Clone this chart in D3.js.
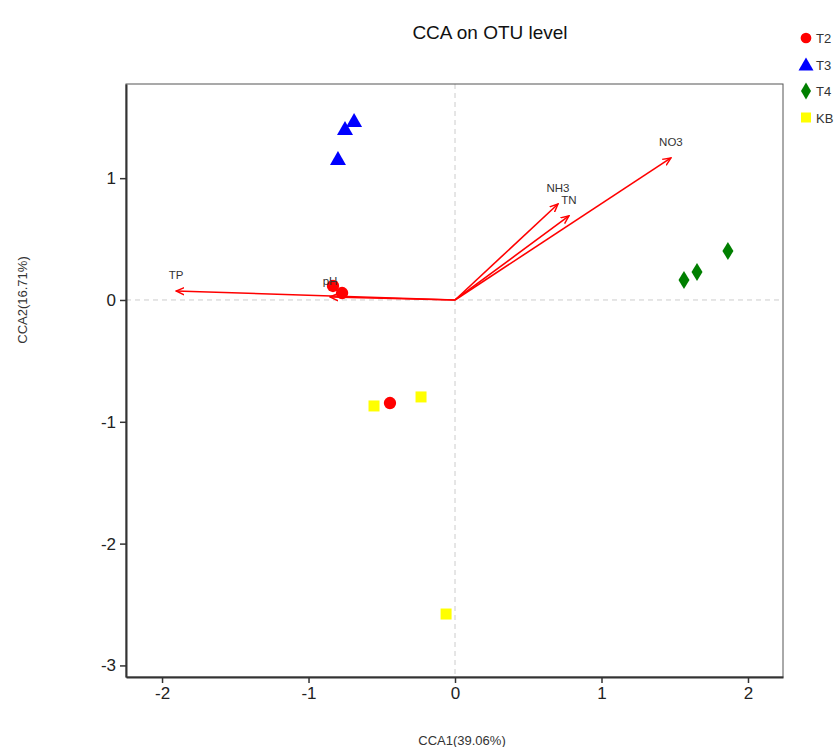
<!DOCTYPE html>
<html>
<head>
<meta charset="utf-8">
<script src="https://cdn.jsdelivr.net/npm/d3@7"></script>
<style>
body{margin:0;background:#fff;}
text{font-family:"Liberation Sans",Arial,sans-serif;}
</style>
</head>
<body>
<div id="svg"></div>
<script>
// sample scores
var groups=["T2","T3","T4","KB"];
var groupColors=["#ff0000","#0000ff","#007f00","#ffff00"];
var groupShapes=["circle","triangle","diamond","square"];
var sampleGroup=["T2","T2","T2","T3","T3","T3","T4","T4","T4","KB","KB","KB"];
var cca1=[-0.833,-0.771,-0.444,-0.689,-0.751,-0.799,1.563,1.652,1.863,-0.553,-0.232,-0.061];
var cca2=[0.115,0.057,-0.846,1.470,1.404,1.158,0.164,0.230,0.402,-0.870,-0.796,-2.578];

// environment factors
var envNames=["TP","pH","NH3","TN","NO3"];
var envX=[-1.904,-0.853,0.703,0.778,1.474];
var envY=[0.074,0.025,0.788,0.690,1.166];

var xTicks=[-2,-1,0,1,2];
var yTicks=[-3,-2,-1,0,1];

var width=834,height=747;
var margin={top:84,left:126,right:51,bottom:70};

var svg=d3.select("#svg").append("svg").attr("width",width).attr("height",height);

var x=d3.scaleLinear().domain([-2.246,2.239]).range([margin.left,width-margin.right]);
var y=d3.scaleLinear().domain([-3.095,1.773]).range([height-margin.bottom,margin.top]);

svg.append("defs").append("marker")
.attr("id","arr").attr("viewBox","0 0 10 10").attr("refX",9).attr("refY",5)
.attr("markerWidth",9).attr("markerHeight",9).attr("markerUnits","userSpaceOnUse")
.attr("orient","auto")
.append("path").attr("d","M0,1 L9,5 L0,9").attr("fill","none").attr("stroke","#ff0000").attr("stroke-width",1.6);

// zero lines
svg.append("line").attr("x1",x(0)).attr("x2",x(0)).attr("y1",margin.top).attr("y2",height-margin.bottom)
.attr("stroke","#cccccc").attr("stroke-dasharray","5,4");
svg.append("line").attr("x1",margin.left).attr("x2",width-margin.right).attr("y1",y(0)).attr("y2",y(0))
.attr("stroke","#cccccc").attr("stroke-dasharray","5,4");

// frame
svg.append("rect").attr("x",margin.left).attr("y",margin.top)
.attr("width",width-margin.right-margin.left).attr("height",height-margin.bottom-margin.top)
.attr("fill","none").attr("stroke","#555").attr("stroke-width",1);

var xAxis=svg.append("g").attr("transform","translate(0,"+(height-margin.bottom)+")")
.call(d3.axisBottom(x).tickValues(xTicks).tickFormat(d=>String(d)).tickSize(6).tickSizeOuter(0).tickPadding(4));
var yAxis=svg.append("g").attr("transform","translate("+margin.left+",0)")
.call(d3.axisLeft(y).tickValues(yTicks).tickFormat(d=>String(d)).tickSize(6).tickSizeOuter(0).tickPadding(4));
[xAxis,yAxis].forEach(function(a){
  a.select(".domain").attr("stroke","#333").attr("stroke-width",2);
  a.selectAll(".tick line").attr("stroke","#333").attr("stroke-width",1.5);
  a.selectAll(".tick text").attr("font-size",17).attr("fill","#222")
   .style("font-family","'Liberation Sans',Arial,sans-serif");
});

// env arrows
svg.selectAll(".env").data(envNames).enter().append("line")
.attr("x1",x(0)).attr("y1",y(0))
.attr("x2",(d,i)=>x(envX[i])).attr("y2",(d,i)=>y(envY[i]))
.attr("stroke","#ff0000").attr("stroke-width",1.6).attr("marker-end","url(#arr)");

function shapePath(s){
  if(s=="circle") return d3.symbol().type(d3.symbolCircle).size(120)();
  if(s=="triangle") return "M0,-8 L8,6 L-8,6 Z";
  if(s=="diamond") return "M0,-9 L5.5,0 L0,9 L-5.5,0 Z";
  return "M-5.5,-5.5 L5.5,-5.5 L5.5,5.5 L-5.5,5.5 Z";
}

svg.selectAll(".pt").data(sampleGroup).enter().append("path")
.attr("transform",(d,i)=>"translate("+x(cca1[i])+","+y(cca2[i])+")")
.attr("d",d=>shapePath(groupShapes[groups.indexOf(d)]))
.attr("fill",d=>groupColors[groups.indexOf(d)]);

// labels on top of points
svg.selectAll(".envlab").data(envNames).enter().append("text")
.attr("x",(d,i)=>x(envX[i])).attr("y",(d,i)=>y(envY[i])-12)
.attr("text-anchor","middle").attr("font-size",11.5).attr("fill","#333").text(d=>d);

// legend
var leg=svg.selectAll(".leg").data(groups).enter().append("g")
.attr("transform",(d,i)=>"translate(806,"+(38+i*26.5)+")");
leg.append("path").attr("d",(d,i)=>{
  if(i==0) return d3.symbol().type(d3.symbolCircle).size(90)();
  if(i==1) return "M0,-7 L7.5,6 L-7.5,6 Z";
  if(i==2) return "M0,-8.5 L5,0 L0,8.5 L-5,0 Z";
  return "M-5,-5 L5,-5 L5,5 L-5,5 Z";
}).attr("fill",(d,i)=>groupColors[i]);
leg.append("text").attr("x",10).attr("y",5).attr("font-size",13).attr("fill","#333").text(d=>d);

// titles
svg.append("text").attr("x",490).attr("y",39).attr("text-anchor","middle")
.attr("font-size",19).attr("fill","#111").text("CCA on OTU level");
svg.append("text").attr("x",462).attr("y",745).attr("text-anchor","middle")
.attr("font-size",13).attr("fill","#333").text("CCA1(39.06%)");
svg.append("text").attr("transform","translate(27,300) rotate(-90)").attr("text-anchor","middle")
.attr("font-size",13).attr("fill","#333").text("CCA2(16.71%)");
</script>
</body>
</html>
